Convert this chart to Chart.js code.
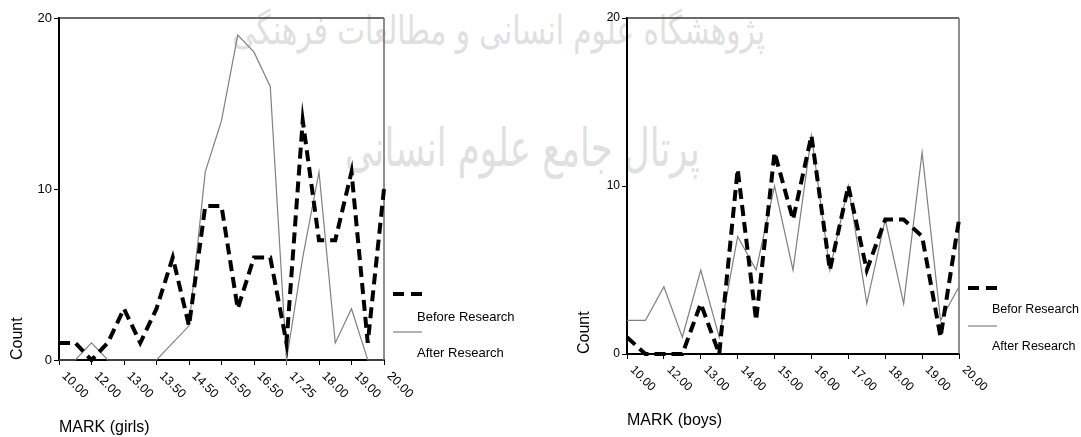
<!DOCTYPE html>
<html>
<head>
<meta charset="utf-8">
<script src="https://cdn.jsdelivr.net/npm/chart.js@4"></script>
<style>
  html, body { margin: 0; padding: 0; background: #fff; }
  body { width: 1081px; height: 437px; position: relative; overflow: hidden; }
  .wm { position: absolute; white-space: nowrap; direction: rtl; font-family: "DejaVu Sans", sans-serif;
        color: #e0e0e0; transform-origin: 0 0; z-index: 0; line-height: 1; }
  .pane { position: absolute; top: 0; height: 437px; z-index: 1; }
  canvas { display: block; }
</style>
</head>
<body>
<div class="wm" id="wm1">پژوهشگاه علوم انسانی و مطالعات فرهنگی</div>
<div class="wm" id="wm2">پرتال جامع علوم انسانی</div>
<div class="pane" style="left:0;width:540px"><canvas id="girls" width="540" height="437"></canvas></div>
<div class="pane" style="left:540px;width:541px"><canvas id="boys" width="541" height="437"></canvas></div>
<script>
// ---- data ----
const girlsMarks  = ['10.00','11.00','12.00','12.50','13.00','13.25','13.50','14.00','14.50','15.00','15.50',
                     '16.00','16.50','17.00','17.25','17.50','18.00','18.50','19.00','19.50','20.00'];
const girlsBefore = [1,1,0,1,3,1,3,6,2,9,9,3,6,6,1,14,7,7,11,1,10];
const girlsAfter  = [0,0,1,0,0,0,0,1,2,11,14,19,18,16,0,6,11,1,3,0,0];

const boysMarks  = ['10.00','11.00','12.00','12.50','13.00','13.50','14.00','14.50','15.00','15.50',
                    '16.00','16.50','17.00','17.50','18.00','18.50','19.00','19.50','20.00'];
const boysBefore = [1,0,0,0,3,0,11,2,12,8,13,5,10,5,8,8,7,1,8];
const boysAfter  = [2,2,4,1,5,1,7,5,10,5,13,5,10,3,8,3,12,2,4];

const yMin = 0, yMax = 20, yStep = 10;

// ---- watermark placement ----
function fitWm(id, left, right, cy, size) {
  const el = document.getElementById(id);
  el.style.fontSize = size + 'px';
  const w = el.offsetWidth, h = el.offsetHeight;
  const s = (right - left) / w;
  el.style.left = left + 'px';
  el.style.top = (cy - h / 2) + 'px';
  el.style.transform = 'scaleX(' + s + ')';
}
fitWm('wm1', 232, 765, 30, 40);
fitWm('wm2', 345, 700, 148, 52);

const FONT = '"Liberation Sans", Arial, sans-serif';

const rotatedXLabels = {
  id: 'rotatedXLabels',
  afterDraw(chart, args, o) {
    const xs = chart.scales.x, ctx = chart.ctx;
    ctx.save();
    ctx.font = o.size + 'px ' + FONT;
    ctx.fillStyle = '#000';
    ctx.textAlign = 'left';
    ctx.textBaseline = 'middle';
    chart.data.labels.forEach((lab, i) => {
      if (i % 2) return;
      const x = xs.getPixelForValue(i);
      ctx.save();
      ctx.translate(x + o.dx, xs.top + o.dy);
      ctx.rotate(Math.PI / 4);
      ctx.fillText(lab, 0, 0);
      ctx.restore();
    });
    ctx.restore();
  }
};

const frame = {
  id: 'frame',
  beforeDatasetsDraw(chart) {
    const {left, top, right, bottom} = chart.chartArea, ctx = chart.ctx;
    ctx.save();
    ctx.lineWidth = 1.5;
    ctx.strokeStyle = '#3a3a3a';
    ctx.beginPath(); ctx.moveTo(left, top); ctx.lineTo(right, top); ctx.stroke();
    ctx.strokeStyle = '#6a6a6a';
    ctx.beginPath(); ctx.moveTo(right, top); ctx.lineTo(right, bottom); ctx.stroke();
    ctx.restore();
  }
};

const customLegend = {
  id: 'customLegend',
  afterDraw(chart, args, o) {
    const ctx = chart.ctx, ds = chart.data.datasets;
    ctx.save();
    ctx.strokeStyle = '#000'; ctx.lineWidth = 4; ctx.setLineDash([11, 7]);
    ctx.beginPath(); ctx.moveTo(o.x0, o.y1); ctx.lineTo(o.x0 + 29, o.y1); ctx.stroke();
    ctx.setLineDash([]);
    ctx.strokeStyle = '#808080'; ctx.lineWidth = 1.2;
    ctx.beginPath(); ctx.moveTo(o.x0, o.y3); ctx.lineTo(o.x0 + 29, o.y3); ctx.stroke();
    ctx.fillStyle = '#000'; ctx.font = o.size + 'px ' + FONT;
    ctx.textAlign = 'left'; ctx.textBaseline = 'middle';
    ctx.fillText(ds[0].label, o.tx, o.y2);
    ctx.fillText(ds[1].label, o.tx, o.y4);
    ctx.restore();
  }
};

function makeChart(id, labels, before, after, g) {
  return new Chart(document.getElementById(id), {
    type: 'line',
    data: {
      labels: labels,
      datasets: [
        { label: g.beforeLabel, data: before, borderColor: '#000', borderWidth: 4, borderDash: [11, 6],
          pointRadius: 0, tension: 0, fill: false, clip: false, borderJoinStyle: 'miter' },
        { label: 'After Research', data: after, borderColor: '#808080', borderWidth: 1.2,
          pointRadius: 0, tension: 0, fill: false, clip: false }
      ]
    },
    options: {
      responsive: false,
      animation: false,
      events: [],
      layout: { padding: { left: 0, top: g.top, right: g.padRight, bottom: 0 } },
      plugins: {
        legend: { display: false },
        tooltip: { enabled: false },
        rotatedXLabels: g.xl,
        customLegend: g.lg
      },
      scales: {
        x: {
          type: 'category',
          offset: false,
          afterFit(s) { s.height = g.xHeight; },
          grid: {
            drawOnChartArea: false, drawTicks: true, tickLength: 5, lineWidth: 1,
            color: (c) => (c.index % 2 === 0 ? '#000' : 'rgba(0,0,0,0)')
          },
          border: { display: true, color: '#000', width: 2 },
          ticks: { display: false, autoSkip: false, maxRotation: 0 },
          title: { display: true, text: g.xTitle, align: 'start', color: '#000',
                   font: { family: FONT, size: 16, lineHeight: 1.2 }, padding: { top: 0, bottom: g.xTitlePad } }
        },
        y: {
          min: yMin, max: yMax,
          afterFit(s) { s.width = g.yWidth; },
          grid: { drawOnChartArea: false, drawTicks: true, tickLength: 5, color: '#000' },
          border: { display: true, color: '#000', width: 2 },
          ticks: { stepSize: yStep, padding: 2, color: '#000', font: { family: FONT, size: g.yFont } },
          title: { display: true, text: 'Count', align: 'start', color: '#000',
                   font: { family: FONT, size: 16, lineHeight: 1.2 }, padding: { top: g.yTitlePad, bottom: 0 } }
        }
      }
    },
    plugins: [frame, rotatedXLabels, customLegend]
  });
}

makeChart('girls', girlsMarks, girlsBefore, girlsAfter, {
  beforeLabel: 'Before Research', xTitle: 'MARK (girls)',
  top: 18, padRight: 540 - 384, yWidth: 59, xHeight: 437 - 360,
  xTitlePad: 0, yTitlePad: 8, yFont: 13,
  xl: { size: 12.5, dx: 5, dy: 14 },
  lg: { x0: 393, y1: 294, y3: 332, tx: 417, y2: 317, y4: 353, size: 13 }
});

makeChart('boys', boysMarks, boysBefore, boysAfter, {
  beforeLabel: 'Befor Research', xTitle: 'MARK (boys)',
  top: 18, padRight: 541 - 419, yWidth: 87, xHeight: 437 - 354,
  xTitlePad: 6.5, yTitlePad: 35, yFont: 12,
  xl: { size: 12, dx: 5, dy: 14 },
  lg: { x0: 428, y1: 288, y3: 326, tx: 452, y2: 310, y4: 347, size: 12.5 }
});
</script>
</body>
</html>
